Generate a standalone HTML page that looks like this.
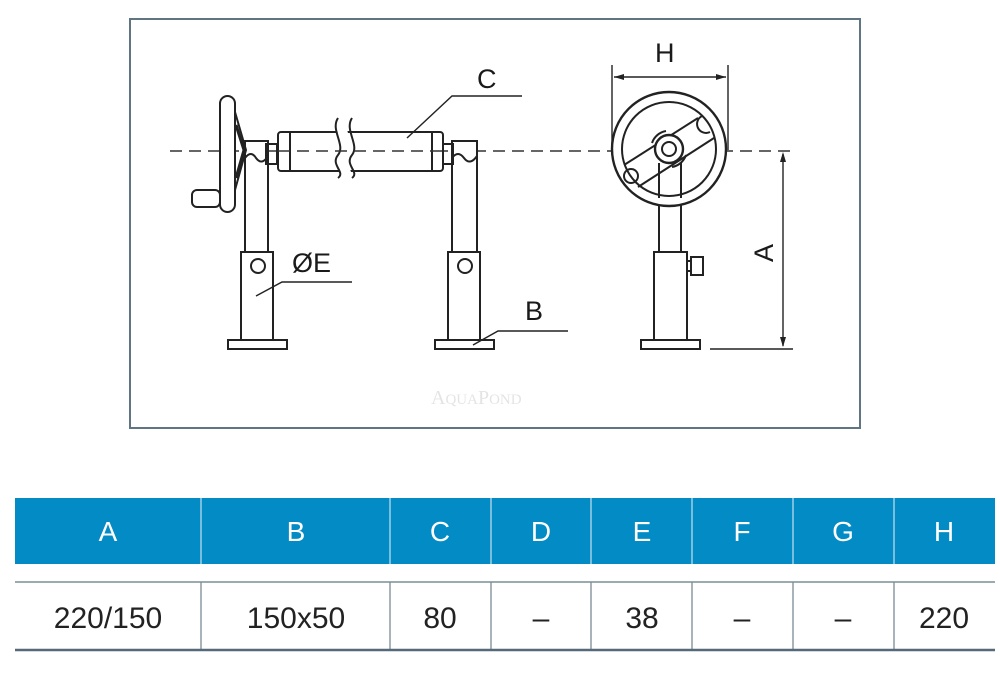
<!DOCTYPE html>
<html><head><meta charset="utf-8"><style>
html,body{margin:0;padding:0;background:#fff;width:1000px;height:675px;overflow:hidden}
svg{display:block}
</style></head><body>
<svg width="1000" height="675" viewBox="0 0 1000 675" xmlns="http://www.w3.org/2000/svg" font-family="Liberation Sans, sans-serif">
<rect x="130" y="19" width="730" height="409" fill="#fff" stroke="#5f7582" stroke-width="2"/>
<g fill="none" stroke="#222" stroke-width="2">
<line x1="170" y1="151" x2="793" y2="151" stroke-dasharray="12,7" stroke-width="1.4" stroke="#333"/>
<rect x="278" y="132" width="165" height="39" rx="3" fill="#fff"/>
<line x1="290" y1="132" x2="290" y2="171"/>
<line x1="432" y1="132" x2="432" y2="171"/>
<path d="M345 118 C335 130,353 145,343 155 C335 165,353 172,343 178" fill="#fff" stroke="#fff" stroke-width="10"/>
<path d="M338 118 C330 130,346 145,338 155 C330 165,346 172,338 178"/>
<path d="M352 118 C344 130,360 145,352 155 C344 165,360 172,352 178"/>
<line x1="278" y1="151" x2="443" y2="151" stroke-dasharray="12,7" stroke-width="1.4" stroke="#333"/>
<rect x="245" y="141" width="23" height="111" fill="#fff"/>
<path d="M245 158 q6 -8 11 0 q6 8 12 -2"/>
<rect x="266" y="144" width="11" height="20"/>
<rect x="241" y="252" width="32" height="88" fill="#fff"/>
<circle cx="258" cy="266" r="7"/>
<rect x="228" y="340" width="59" height="9"/>
<rect x="220" y="96" width="15" height="116" rx="7.5" fill="#fff"/>
<path d="M235 112 L246 150 L235 190"/>
<path d="M236 125 L244 150 L236 178" stroke-width="3"/>
<rect x="192" y="190" width="28" height="17" rx="5" fill="#fff"/>
<rect x="452" y="141" width="25" height="111" fill="#fff"/>
<path d="M452 158 q6 -8 12 0 q6 8 13 -2"/>
<rect x="443" y="144" width="10" height="20"/>
<rect x="448" y="252" width="32" height="88" fill="#fff"/>
<circle cx="465" cy="266" r="7"/>
<rect x="435" y="340" width="59" height="9"/>
<polyline points="407,138 452,96 522,96" stroke-width="1.4"/>
<polyline points="256,296 282,282 352,282" stroke-width="1.4"/>
<polyline points="473,345 498,331 568,331" stroke-width="1.4"/>
<rect x="659" y="200" width="22" height="52" fill="#fff"/>
<circle cx="669" cy="149" r="57" fill="#fff" stroke-width="2.4"/>
<circle cx="669" cy="149" r="47"/>
<line x1="624" y1="165" x2="698" y2="118"/>
<line x1="638" y1="187" x2="714" y2="138"/>
<circle cx="631" cy="176" r="7"/>
<path d="M702 116 a8 8 0 0 0 8 16"/>
<circle cx="669" cy="149" r="14" fill="#fff" stroke-width="2.4"/>
<circle cx="669" cy="149" r="7"/>
<path d="M652 143 a18 18 0 0 1 14 -12"/>
<path d="M686 155 a18 18 0 0 1 -14 12"/>
<line x1="659" y1="163" x2="659" y2="198"/>
<line x1="681" y1="163" x2="681" y2="198"/>
<rect x="654" y="252" width="33" height="88" fill="#fff"/>
<rect x="687" y="261" width="4" height="10"/>
<rect x="691" y="257" width="12" height="18"/>
<rect x="641" y="340" width="59" height="9"/>
<line x1="612" y1="65" x2="612" y2="150" stroke-width="1.4"/>
<line x1="728" y1="65" x2="728" y2="150" stroke-width="1.4"/>
<line x1="614" y1="77" x2="726" y2="77" stroke-width="1.4"/>
<line x1="783" y1="154" x2="783" y2="346" stroke-width="1.4"/>
<line x1="710" y1="349" x2="793" y2="349" stroke-width="1.4"/>
</g>
<g fill="#222">
<polygon points="614,77 624,74 624,80"/>
<polygon points="726,77 716,74 716,80"/>
<polygon points="783,152 780,162 786,162"/>
<polygon points="783,347 780,337 786,337"/>
</g>
<g fill="#1a1a1a" font-size="27">
<text x="477" y="88">C</text>
<text x="292" y="272">ØE</text>
<text x="525" y="320">B</text>
<text x="655" y="62">H</text>
<text x="0" y="0" transform="translate(773,262) rotate(-90)">A</text>
</g>
<text x="431" y="404" font-family="Liberation Serif, serif" font-size="20" fill="#e4e4e4">A<tspan font-size="15">QUA</tspan>P<tspan font-size="15">OND</tspan></text>
<rect x="15" y="498" width="980" height="66" fill="#028bc4"/>
<g stroke="#9fd0e6" stroke-width="1.5">
<line x1="201" y1="498" x2="201" y2="564"/><line x1="390" y1="498" x2="390" y2="564"/>
<line x1="491" y1="498" x2="491" y2="564"/><line x1="591" y1="498" x2="591" y2="564"/>
<line x1="692" y1="498" x2="692" y2="564"/><line x1="793" y1="498" x2="793" y2="564"/>
<line x1="894" y1="498" x2="894" y2="564"/>
</g>
<g stroke="#8a9aa3" stroke-width="1.5">
<line x1="201" y1="582" x2="201" y2="650"/><line x1="390" y1="582" x2="390" y2="650"/>
<line x1="491" y1="582" x2="491" y2="650"/><line x1="591" y1="582" x2="591" y2="650"/>
<line x1="692" y1="582" x2="692" y2="650"/><line x1="793" y1="582" x2="793" y2="650"/>
<line x1="894" y1="582" x2="894" y2="650"/>
</g>
<line x1="15" y1="582" x2="995" y2="582" stroke="#7b8d97" stroke-width="1.5"/>
<line x1="15" y1="650" x2="995" y2="650" stroke="#56697a" stroke-width="2.5"/>
<g fill="#fff" font-size="28" text-anchor="middle">
<text x="108" y="541">A</text><text x="296" y="541">B</text><text x="440" y="541">C</text>
<text x="541" y="541">D</text><text x="642" y="541">E</text><text x="742" y="541">F</text>
<text x="843" y="541">G</text><text x="944" y="541">H</text>
</g>
<g fill="#222" font-size="30" text-anchor="middle">
<text x="108" y="628">220/150</text><text x="296" y="628">150x50</text><text x="440" y="628">80</text>
<text x="541" y="628">–</text><text x="642" y="628">38</text><text x="742" y="628">–</text>
<text x="843" y="628">–</text><text x="944" y="628">220</text>
</g>
</svg>
</body></html>
